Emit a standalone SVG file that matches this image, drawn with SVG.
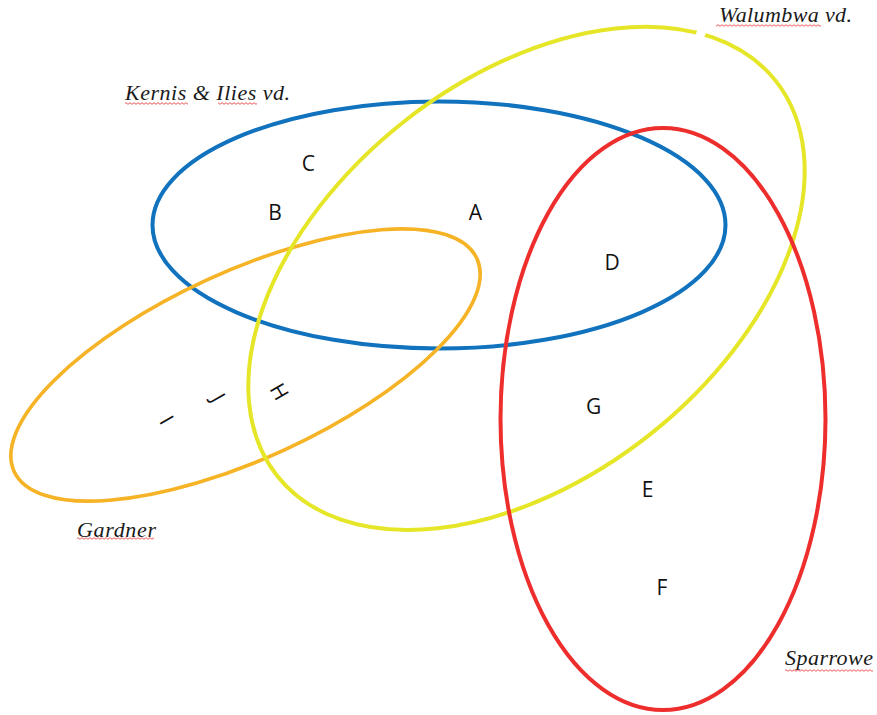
<svg xmlns="http://www.w3.org/2000/svg" width="877" height="715" viewBox="0 0 877 715">
  <style>
    .set { fill: none; stroke-width: 4; }
    .blue { stroke: #1172be; }
    .yellow { stroke: #e6e629; }
    .orange { stroke: #f5b325; stroke-width: 3.6; }
    .red { stroke: #ee2d2d; }
    .item { font-family: "Open Sans", "Liberation Sans", sans-serif; font-size: 21px; fill: #111; text-anchor: middle; }
    .title { font-family: "Liberation Serif", "Times New Roman", serif; font-style: italic; font-size: 22px; fill: #1a1a1a; }
  </style>
  <defs>
    <pattern id="squig" patternUnits="userSpaceOnUse" width="4" height="3">
      <path d="M0 2.3 L2 0.7 L4 2.3" fill="none" stroke="#e23030" stroke-width="0.8"/>
    </pattern>
  </defs>
  <rect width="877" height="715" fill="#ffffff"/>

  <g id="kernis-ilies">
    <ellipse class="set blue" cx="439" cy="225" rx="286.5" ry="123.5"/>
    <text class="title" x="125" y="100" textLength="165" lengthAdjust="spacing">Kernis &amp; Ilies vd.</text>
    <rect x="125" y="102" width="63" height="3" fill="url(#squig)"/>
    <rect x="218" y="102" width="39" height="3" fill="url(#squig)"/>
  </g>

  <g id="gardner">
    <ellipse class="set orange" cx="0" cy="0" rx="254.7" ry="93.4" transform="translate(245.5 365) rotate(-24.7)"/>
    <text class="title" x="77" y="537" textLength="79" lengthAdjust="spacing">Gardner</text>
    <rect x="77" y="537" width="77" height="3" fill="url(#squig)"/>
  </g>

  <g id="walumbwa">
    <ellipse class="set yellow" cx="0" cy="0" rx="318" ry="199" transform="translate(526.5 278.4) rotate(-38.4)"/>
    <line x1="702.5" y1="30" x2="697.5" y2="41" stroke="#ffffff" stroke-width="9"/>
    <text class="title" x="719" y="22" textLength="133" lengthAdjust="spacing">Walumbwa vd.</text>
    <rect x="716" y="24" width="105" height="3" fill="url(#squig)"/>
  </g>

  <g id="sparrowe">
    <ellipse class="set red" cx="663" cy="419" rx="162.5" ry="291"/>
    <text class="title" x="785" y="665" textLength="88" lengthAdjust="spacing">Sparrowe</text>
    <rect x="785" y="669" width="88" height="3" fill="url(#squig)"/>
  </g>

  <g id="items">
    <text class="item" x="308.3" y="171">C</text>
    <text class="item" x="275" y="220">B</text>
    <text class="item" x="475.3" y="220">A</text>
    <text class="item" x="612" y="270">D</text>
    <text class="item" x="593.7" y="413.5">G</text>
    <text class="item" x="647.7" y="496.5">E</text>
    <text class="item" x="662" y="595">F</text>
    <text class="item" x="0" y="7.5" transform="translate(279.3 391.7) rotate(60)">H</text>
    <text class="item" x="0" y="7.5" transform="translate(218.3 397.7) rotate(60)">J</text>
    <text class="item" x="0" y="7.5" transform="translate(166.7 420) rotate(60)">I</text>
  </g>
</svg>
